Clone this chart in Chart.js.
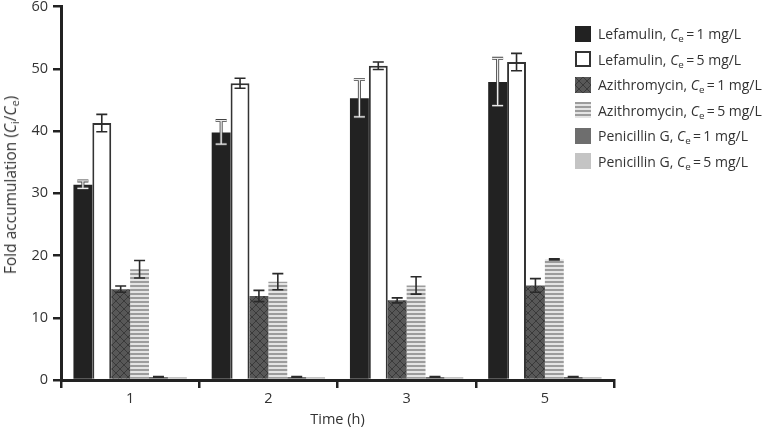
<!DOCTYPE html>
<html>
<head>
<meta charset="utf-8">
<script src="https://cdn.jsdelivr.net/npm/chart.js@4"></script>
<style>
  html, body { margin:0; padding:0; background:#fff; overflow:hidden; }
  #wrap { position:relative; width:764px; height:427px; font-family:"Open Sans", "Noto Sans", sans-serif; color:#333; overflow:hidden; }
  #c { position:absolute; left:0; top:-7px; }
  #ytitle { position:absolute; left:10px; top:185px; transform:translate(-50%,-50%) rotate(-90deg); white-space:nowrap; font-size:15.5px; color:#333; }
  #legend { position:absolute; left:575px; top:21px; font-size:14px; color:#333; }
  .row { height:25.5px; display:flex; align-items:center; white-space:nowrap; }
  .sw { width:16px; height:16px; margin-right:7px; box-sizing:border-box; flex:none; }
  sub { font-size:70%; vertical-align:-3px; line-height:0; }
  i { font-style:italic; }
</style>
</head>
<body>
<div id="wrap">
  <canvas id="c" width="764" height="434"></canvas>
  <div id="ytitle">Fold accumulation (<i>C</i><sub>i</sub>/<i>C</i><sub>e</sub>)</div>
  <div id="legend"></div>
</div>
<script>
const categories = ['1', '2', '3', '5'];
const seriesNames = ['Lefamulin', 'Lefamulin', 'Azithromycin', 'Azithromycin', 'Penicillin G', 'Penicillin G'];
const seriesConc = ['1 mg/L', '5 mg/L', '1 mg/L', '5 mg/L', '1 mg/L', '5 mg/L'];
const lef1 = [31.4, 39.8, 45.3, 47.9];
const lef5 = [41.3, 47.7, 50.5, 51.1];
const azi1 = [14.6, 13.5, 12.8, 15.2];
const azi5 = [17.8, 15.8, 15.2, 19.4];
const pen1 = [0.5, 0.5, 0.5, 0.5];
const pen5 = [0.5, 0.5, 0.5, 0.5];
const lef1Err = [0.6, 1.9, 3.0, 3.8];
const lef5Err = [1.4, 0.8, 0.6, 1.4];
const azi1Err = [0.5, 0.9, 0.4, 1.1];
const azi5Err = [1.4, 1.3, 1.4, 0.1];
const pen1Err = [0.05, 0.05, 0.05, 0.05];
const pen5Err = [0, 0, 0, 0];
const yTicks = [0, 10, 20, 30, 40, 50, 60];

function makePattern(kind) {
  const p = document.createElement('canvas');
  if (kind === 'hatch') {
    p.width = 8; p.height = 8;
    const g = p.getContext('2d');
    g.fillStyle = '#585858'; g.fillRect(0, 0, 8, 8);
    g.strokeStyle = '#3a3a3a'; g.lineWidth = 1;
    g.beginPath();
    g.moveTo(0, 0); g.lineTo(8, 8);
    g.moveTo(8, 0); g.lineTo(0, 8);
    g.stroke();
  } else {
    p.width = 4; p.height = 4;
    const g = p.getContext('2d');
    g.fillStyle = '#e4e4e4'; g.fillRect(0, 0, 4, 4);
    g.fillStyle = '#9c9c9c'; g.fillRect(0, 0, 4, 2);
  }
  return p;
}
const ctx = document.getElementById('c').getContext('2d');
const hatchC = makePattern('hatch');
const stripeC = makePattern('stripe');
const hatch = ctx.createPattern(hatchC, 'repeat');
const stripe = ctx.createPattern(stripeC, 'repeat');

const fills = ['#222222', '#ffffff', hatch, stripe, '#6e6e6e', '#c4c4c4'];
const borders = ['#222222', '#333333', '#444444', '#b0b0b0', '#6e6e6e', '#c4c4c4'];
const borderW = [0, 2, 0, 0, 0, 0];
const values = [lef1, lef5, azi1, azi5, pen1, pen5];
const errs = [lef1Err, lef5Err, azi1Err, azi5Err, pen1Err, pen5Err];

// HTML legend
const leg = document.getElementById('legend');
const swStyles = [
  'background:#222',
  'background:#fff;border:2px solid #333',
  'background-image:url(' + hatchC.toDataURL() + ')',
  'background-image:url(' + stripeC.toDataURL() + ')',
  'background:#6e6e6e',
  'background:#c4c4c4'
];
seriesNames.forEach((n, i) => {
  const r = document.createElement('div');
  r.className = 'row';
  r.innerHTML = '<div class="sw" style="' + swStyles[i] + '"></div><span>' + n + ', <i>C</i><sub>e</sub>\u2009=\u2009' + seriesConc[i] + '</span>';
  leg.appendChild(r);
});

const errorBars = {
  id: 'errorBars',
  afterDatasetsDraw(chart) {
    const g = chart.ctx;
    const ys = chart.scales.y;
    chart.data.datasets.forEach((ds, di) => {
      const meta = chart.getDatasetMeta(di);
      meta.data.forEach((bar, i) => {
        const v = ds.data[i], e = ds.err[i];
        if (e === 0) return;
        const x = bar.x;
        const yt = ys.getPixelForValue(v + e);
        const yb = ys.getPixelForValue(v - e);
        const hw = 5.5;
        const path = () => {
          g.beginPath();
          g.moveTo(x, yt); g.lineTo(x, yb);
          g.moveTo(x - hw, yt); g.lineTo(x + hw, yt);
          g.moveTo(x - hw, yb); g.lineTo(x + hw, yb);
        };
        g.save();
        if (di === 0) {
          g.strokeStyle = '#444'; g.lineWidth = 3; path(); g.stroke();
          g.strokeStyle = '#ececec'; g.lineWidth = 1.3; path(); g.stroke();
        } else {
          g.strokeStyle = '#2a2a2a'; g.lineWidth = 1.6; path(); g.stroke();
        }
        g.restore();
      });
    });
  }
};

const FONT = '"Open Sans", "Noto Sans", sans-serif';
new Chart(ctx, {
  type: 'bar',
  data: {
    labels: categories,
    datasets: values.map((d, i) => ({
      label: seriesNames[i] + ', Ce = ' + seriesConc[i],
      data: d,
      err: errs[i],
      backgroundColor: fills[i],
      borderColor: borders[i],
      borderWidth: borderW[i],
      borderSkipped: 'bottom',
      categoryPercentage: 0.82,
      barPercentage: 1.0
    }))
  },
  options: {
    responsive: false,
    animation: false,
    devicePixelRatio: 1,
    layout: { padding: { left: 0, right: 150, top: 13, bottom: 0 } },
    plugins: { legend: { display: false }, tooltip: { enabled: false } },
    scales: {
      x: {
        afterFit(s) { s.height = 47; },
        grid: { drawOnChartArea: false, drawTicks: true, tickLength: 8, color: '#222', lineWidth: 2.5, offset: true },
        border: { display: true, color: '#222', width: 3 },
        ticks: { color: '#333', font: { family: FONT, size: 14.5 }, padding: 2 },
        title: { display: true, text: 'Time (h)', color: '#333', font: { family: FONT, size: 14.5 }, padding: { top: 8, bottom: -1.5 } }
      },
      y: {
        min: 0, max: 60,
        afterFit(s) { s.width = 61; },
        afterBuildTicks(s) { s.ticks = yTicks.map(v => ({ value: v })); },
        grid: { drawOnChartArea: false, drawTicks: true, tickLength: 8, color: '#222', lineWidth: 2.5 },
        border: { display: true, color: '#222', width: 3 },
        ticks: { color: '#333', font: { family: FONT, size: 14.5 }, padding: 5 }
      }
    }
  },
  plugins: [errorBars]
});
</script>
</body>
</html>
